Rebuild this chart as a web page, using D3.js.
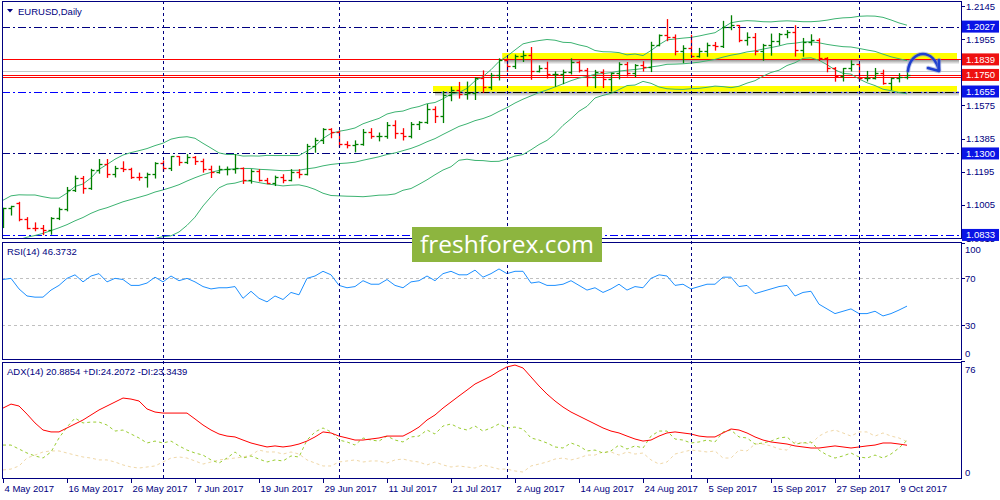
<!DOCTYPE html>
<html><head><meta charset="utf-8">
<script src="https://cdn.jsdelivr.net/npm/d3@7"></script>
<style>body{margin:0;background:#fff}svg{display:block}text{font-family:"Liberation Sans",Arial,sans-serif}</style>
</head><body><svg id="c" width="1000" height="500"></svg>
<script>
const dates = ["2017-05-04","2017-05-05","2017-05-08","2017-05-09","2017-05-10","2017-05-11","2017-05-12","2017-05-15","2017-05-16","2017-05-17","2017-05-18","2017-05-19","2017-05-22","2017-05-23","2017-05-24","2017-05-25","2017-05-26","2017-05-29","2017-05-30","2017-05-31",
"2017-06-01","2017-06-02","2017-06-05","2017-06-06","2017-06-07","2017-06-08","2017-06-09","2017-06-12","2017-06-13","2017-06-14","2017-06-15","2017-06-16","2017-06-19","2017-06-20","2017-06-21","2017-06-22","2017-06-23","2017-06-26","2017-06-27","2017-06-28","2017-06-29","2017-06-30",
"2017-07-03","2017-07-04","2017-07-05","2017-07-06","2017-07-07","2017-07-10","2017-07-11","2017-07-12","2017-07-13","2017-07-14","2017-07-17","2017-07-18","2017-07-19","2017-07-20","2017-07-21","2017-07-24","2017-07-25","2017-07-26","2017-07-27","2017-07-28","2017-07-31",
"2017-08-01","2017-08-02","2017-08-03","2017-08-04","2017-08-07","2017-08-08","2017-08-09","2017-08-10","2017-08-11","2017-08-14","2017-08-15","2017-08-16","2017-08-17","2017-08-18","2017-08-21","2017-08-22","2017-08-23","2017-08-24","2017-08-25","2017-08-28","2017-08-29","2017-08-30","2017-08-31",
"2017-09-01","2017-09-04","2017-09-05","2017-09-06","2017-09-07","2017-09-08","2017-09-11","2017-09-12","2017-09-13","2017-09-14","2017-09-15","2017-09-18","2017-09-19","2017-09-20","2017-09-21","2017-09-22","2017-09-25","2017-09-26","2017-09-27","2017-09-28","2017-09-29",
"2017-10-02","2017-10-03","2017-10-04","2017-10-05","2017-10-06","2017-10-09","2017-10-10"];

const open = [1.0886,1.0985,1.1015,1.0925,1.0874,1.0870,1.0861,1.0932,1.0980,1.1090,1.1160,1.1101,1.1207,1.1242,1.1183,1.1215,1.1212,1.1165,1.1163,1.1180,
1.1245,1.1214,1.1283,1.1250,1.1278,1.1257,1.1210,1.1195,1.1209,1.1210,1.1217,1.1150,1.1198,1.1150,1.1132,1.1166,1.1150,1.1195,1.1183,1.1340,
1.1375,1.1440,1.1425,1.1357,1.1347,1.1355,1.1423,1.1400,1.1402,1.1465,1.1415,1.1400,1.1468,1.1478,1.1557,1.1515,1.1633,1.1665,1.1640,1.1647,
1.1735,1.1678,1.1752,1.1838,1.1803,1.1859,1.1866,1.1774,1.1792,1.1757,1.1758,1.1769,1.1822,1.1780,1.1738,1.1769,1.1725,1.1760,1.1814,1.1760,
1.1806,1.1797,1.1923,1.1976,1.1968,1.1888,1.1905,1.1860,1.1885,1.1920,1.1917,1.2023,1.2036,1.1950,1.1967,1.1887,1.1920,1.1942,1.1985,1.1995,
1.1894,1.1940,1.1951,1.1847,1.1792,1.1743,1.1787,1.1812,1.1733,1.1735,1.1760,1.1706,1.1730,1.1737];
const high = [1.0989,1.1000,1.1023,1.0935,1.0905,1.0890,1.0935,1.0990,1.1108,1.1173,1.1171,1.1212,1.1268,1.1268,1.1229,1.1255,1.1218,1.1190,1.1190,1.1250,
1.1260,1.1285,1.1285,1.1296,1.1285,1.1270,1.1230,1.1230,1.1225,1.1296,1.1220,1.1210,1.1210,1.1160,1.1173,1.1181,1.1210,1.1210,1.1355,1.1390,
1.1445,1.1445,1.1432,1.1370,1.1375,1.1440,1.1445,1.1420,1.1480,1.1490,1.1445,1.1480,1.1485,1.1583,1.1570,1.1658,1.1683,1.1710,1.1712,1.1737,
1.1776,1.1762,1.1845,1.1846,1.1867,1.1889,1.1910,1.1805,1.1826,1.1770,1.1780,1.1845,1.1832,1.1790,1.1779,1.1782,1.1762,1.1823,1.1824,1.1812,
1.1829,1.1940,1.1982,1.2070,1.1982,1.1920,1.1980,1.1905,1.1935,1.1939,1.2060,1.2092,1.2036,1.1994,1.1990,1.1928,1.1987,1.1990,1.2007,1.2035,
1.1962,1.1983,1.1960,1.1852,1.1795,1.1790,1.1834,1.1815,1.1773,1.1790,1.1780,1.1735,1.1760,1.1780];
const low = [1.0878,1.0950,1.0917,1.0871,1.0860,1.0838,1.0840,1.0924,1.0974,1.1085,1.1075,1.1097,1.1190,1.1166,1.1168,1.1199,1.1160,1.1150,1.1110,1.1162,
1.1200,1.1205,1.1235,1.1245,1.1240,1.1196,1.1165,1.1190,1.1180,1.1190,1.1131,1.1133,1.1145,1.1130,1.1119,1.1135,1.1146,1.1163,1.1180,1.1310,
1.1360,1.1393,1.1340,1.1335,1.1312,1.1350,1.1390,1.1375,1.1390,1.1390,1.1380,1.1392,1.1440,1.1475,1.1480,1.1480,1.1605,1.1620,1.1614,1.1612,
1.1652,1.1670,1.1724,1.1773,1.1790,1.1830,1.1728,1.1770,1.1735,1.1688,1.1703,1.1758,1.1770,1.1688,1.1680,1.1681,1.1660,1.1730,1.1747,1.1743,
1.1775,1.1772,1.1920,1.1949,1.1868,1.1823,1.1856,1.1855,1.1860,1.1895,1.1910,1.2012,1.1943,1.1924,1.1868,1.1837,1.1866,1.1925,1.1966,1.1861,
1.1860,1.1924,1.1836,1.1771,1.1717,1.1718,1.1776,1.1721,1.1718,1.1730,1.1700,1.1669,1.1713,1.1730];
const close = [1.0985,1.0998,1.0925,1.0874,1.0870,1.0861,1.0932,1.0980,1.1090,1.1160,1.1101,1.1207,1.1242,1.1183,1.1215,1.1212,1.1165,1.1163,1.1180,1.1245,
1.1214,1.1283,1.1250,1.1278,1.1257,1.1210,1.1195,1.1209,1.1210,1.1217,1.1150,1.1198,1.1150,1.1132,1.1166,1.1150,1.1195,1.1183,1.1340,1.1375,
1.1440,1.1425,1.1357,1.1347,1.1355,1.1423,1.1400,1.1402,1.1465,1.1415,1.1400,1.1468,1.1478,1.1557,1.1515,1.1633,1.1665,1.1640,1.1647,1.1735,
1.1678,1.1752,1.1838,1.1803,1.1859,1.1866,1.1774,1.1792,1.1757,1.1758,1.1769,1.1822,1.1780,1.1738,1.1769,1.1725,1.1760,1.1814,1.1760,1.1806,
1.1797,1.1923,1.1976,1.1968,1.1888,1.1905,1.1860,1.1885,1.1920,1.1917,1.2023,1.2036,1.1950,1.1967,1.1887,1.1920,1.1942,1.1985,1.1995,1.1894,
1.1940,1.1951,1.1847,1.1792,1.1743,1.1787,1.1812,1.1733,1.1735,1.1760,1.1706,1.1730,1.1737,1.1750];

const bbUpper = [1.1032,1.1057,1.1063,1.1062,1.1062,1.1052,1.1044,1.1044,1.1073,1.1111,1.1125,1.1160,1.1209,1.1237,1.1267,1.1291,1.1305,1.1316,1.1328,1.1345,
1.1359,1.1382,1.1392,1.1396,1.1387,1.1358,1.1331,1.1303,1.1294,1.1294,1.1285,1.1286,1.1285,1.1289,1.1288,1.1288,1.1288,1.1288,1.1314,1.1342,
1.1386,1.1415,1.1427,1.1435,1.1446,1.1470,1.1486,1.1501,1.1526,1.1538,1.1543,1.1559,1.1569,1.1585,1.1592,1.1613,1.1640,1.1649,1.1673,1.1716,
1.1741,1.1780,1.1827,1.1857,1.1893,1.1928,1.1939,1.1947,1.1953,1.1949,1.1937,1.1935,1.1922,1.1912,1.1890,1.1883,1.1882,1.1878,1.1865,1.1870,
1.1861,1.1890,1.1923,1.1951,1.1956,1.1961,1.1965,1.1973,1.1983,1.1992,1.2021,1.2049,1.2057,1.2061,1.2059,1.2055,1.2054,1.2058,1.2060,1.2058,
1.2055,1.2055,1.2058,1.2064,1.2072,1.2077,1.2079,1.2086,1.2088,1.2087,1.2080,1.2065,1.2048,1.2035];
const bbMiddle = [1.0769,1.0790,1.0806,1.0820,1.0830,1.0842,1.0858,1.0874,1.0892,1.0914,1.0933,1.0957,1.0976,1.0989,1.1006,1.1023,1.1036,1.1049,1.1062,1.1079,
1.1091,1.1105,1.1121,1.1142,1.1161,1.1178,1.1192,1.1203,1.1209,1.1212,1.1214,1.1214,1.1209,1.1207,1.1204,1.1201,1.1203,1.1204,1.1212,1.1218,
1.1229,1.1237,1.1242,1.1245,1.1250,1.1261,1.1271,1.1281,1.1294,1.1303,1.1316,1.1329,1.1346,1.1367,1.1385,1.1409,1.1432,1.1455,1.1470,1.1488,
1.1500,1.1517,1.1541,1.1563,1.1589,1.1611,1.1630,1.1649,1.1664,1.1681,1.1699,1.1717,1.1732,1.1741,1.1754,1.1758,1.1763,1.1772,1.1777,1.1781,
1.1787,1.1796,1.1802,1.1811,1.1812,1.1814,1.1818,1.1823,1.1831,1.1839,1.1852,1.1863,1.1871,1.1882,1.1888,1.1898,1.1907,1.1916,1.1928,1.1932,
1.1939,1.1940,1.1934,1.1925,1.1918,1.1912,1.1910,1.1902,1.1893,1.1885,1.1869,1.1854,1.1843,1.1832];
const bbLower = [1.0506,1.0522,1.0549,1.0578,1.0597,1.0632,1.0671,1.0703,1.0710,1.0717,1.0742,1.0754,1.0744,1.0741,1.0744,1.0755,1.0767,1.0783,1.0795,1.0813,
1.0823,1.0828,1.0850,1.0888,1.0935,1.0999,1.1052,1.1103,1.1124,1.1130,1.1143,1.1142,1.1133,1.1125,1.1120,1.1114,1.1118,1.1120,1.1110,1.1094,
1.1072,1.1059,1.1057,1.1055,1.1054,1.1052,1.1056,1.1061,1.1062,1.1068,1.1089,1.1099,1.1123,1.1149,1.1178,1.1205,1.1224,1.1261,1.1267,1.1260,
1.1259,1.1254,1.1255,1.1269,1.1285,1.1294,1.1321,1.1351,1.1375,1.1413,1.1461,1.1499,1.1542,1.1570,1.1618,1.1633,1.1644,1.1666,1.1689,1.1692,
1.1713,1.1702,1.1681,1.1671,1.1668,1.1667,1.1671,1.1673,1.1679,1.1686,1.1683,1.1677,1.1685,1.1703,1.1717,1.1743,1.1764,1.1777,1.1804,1.1820,
1.1845,1.1848,1.1834,1.1809,1.1779,1.1759,1.1755,1.1727,1.1705,1.1689,1.1668,1.1660,1.1649,1.1642];

const rsi = [69,70,61,55,54,54,60,64,70,73,67,72,74,67,70,69,64,64,66,71,
67,72,68,70,67,63,61,62,62,63,53,59,53,50,55,52,58,56,70,72,
76,73,64,62,63,68,65,65,69,64,62,67,68,72,68,74,76,73,73,77,
71,74,78,74,76,76,66,67,64,64,65,68,64,60,62,58,61,65,60,63,
62,70,73,72,64,65,61,63,65,65,71,71,63,64,57,59,61,63,64,55,
58,59,48,44,40,42,44,40,40,42,38,40,43,46.3732];

const adx = [46.1,48.8,47.5,42,36,31.2,29.9,29.9,32.6,35.3,38,41.4,44.8,47.5,50.2,52.9,52.2,50.9,45.5,43.4,
42.7,42.7,42.7,42.7,38.7,34.6,31.2,28.5,27.1,26.5,24.4,22.4,21,19.7,20.4,19.7,20.4,21.7,23.7,26.5,
29.9,29.2,27.1,25.8,24.4,24.4,25.1,25.8,27.1,27.1,27.1,29.9,33.2,38,41.4,46.1,50.2,54.3,58.3,62.4,
65.1,67.8,71.2,74,75.3,73.3,67.2,61.1,55.6,50.9,46.8,43.4,40.7,38,35.3,32.6,30.5,29.2,27.1,25.1,
23.7,24.4,27.1,29.2,29.9,29.2,28.5,27.1,26.5,26.5,29.2,31.9,31.2,29.2,26.5,24.4,23.1,22.4,21.7,20.4,
19.7,19,19,19.7,20.4,19.7,19,19.7,20.4,21,22.4,22.4,21.7,20.8854];
const plusDI = [21,21,18.3,15.6,13.6,12.2,16.3,25.8,33.2,39.3,36,36.6,36.6,34.6,30.5,31.2,28.5,25.8,22.4,23.7,
22.4,23.7,20.4,17.6,15.6,14.2,10.9,8.8,12.2,16.3,12.2,13.6,11.5,9.5,10.9,10.2,13.6,12.9,24.4,29.9,
32.6,29.9,24.4,23.1,21,25.8,24.4,23.7,27.1,24.4,23.1,26.5,27.1,31.2,28.5,33.9,35.3,32.6,31.2,33.9,
30.5,32.6,35.3,32.6,33.2,31.9,25.8,24.4,22.4,19.7,19,22.4,20.4,17,17.6,15.6,17,21,18.3,20.4,
19,27.1,30.5,30.5,25.1,24.4,22.4,23.1,24.4,23.1,29.9,31.2,26.5,25.8,21.7,22.4,23.7,25.8,26.5,21.7,
22.4,23.1,17.6,14.2,12.2,13.6,15.6,12.9,12.2,14.2,12.2,14.9,19,24.2072];
const minusDI = [4.1,4.7,6.8,12.2,14.2,16.3,17,17,15.6,14.2,12.9,12.2,10.9,10.9,9.5,7.5,6.1,5.4,6.1,6.8,
9.5,12.2,12.9,12.2,10.2,8.1,9.5,10.9,11.5,12.2,12.9,14.2,17.6,16.3,16.3,14.9,16.3,14.9,10.9,8.8,
6.8,6.8,9.5,10.2,10.9,9.5,10.2,10.2,8.8,10.9,11.5,10.2,9.5,7.5,9.5,7.5,6.1,6.8,6.1,5.4,
7.5,6.1,4.7,4.7,3.4,2.7,6.8,8.1,9.5,11.5,12.2,10.9,12.2,14.2,14.2,16.3,16.3,14.2,16.3,14.9,
15.6,10.9,8.1,9.5,14.9,16.3,17.6,17,16.3,17,12.2,12.2,17.6,17,21.7,21.7,20.4,18.3,17.6,23.1,
22.4,21.7,27.1,29.9,31.2,29.2,27.1,29.9,29.9,27.1,29.2,27.1,25.8,23.3439];

const priceTicks = [1.2145,1.1955,1.1765,1.1575,1.1385,1.1195,1.1005,1.0815];
const rsiTicks = [100,70,30,0];
const rsiLevels = [70,30];
const adxTicks = [76,0];
const markedLevels = [1.2027,1.1839,1.1750,1.1655,1.1300,1.0833];
const markedKinds  = ["blue","red","red","blue","blue","blue"];
const plainLevels = [1.1774,1.1736];
const zoneLow  = [1.1839,1.1655];
const zoneHigh = [1.18757,1.16866];
const zoneFromBar = [62.4,53.75];
const zoneToBar = [119.25,119.25];

// ---------------- rendering ----------------
const svg = d3.select("#c");
const L = 2, R = 961;
const panels = {main:[1,238], rsi:[242,359], adx:[362,478]};
const NAVY = "#000080";
const defs = svg.append("defs");
for (const [k,[t,b]] of Object.entries(panels)) {
  defs.append("clipPath").attr("id","clip-"+k).append("rect").attr("x",L).attr("y",t).attr("width",R-L).attr("height",b-t);
}
const grad = defs.append("linearGradient").attr("id","shadow").attr("x1",0).attr("y1",0).attr("x2",0).attr("y2",1);
grad.append("stop").attr("offset",0).attr("stop-color","#000").attr("stop-opacity",0.45);
grad.append("stop").attr("offset",1).attr("stop-color","#000").attr("stop-opacity",0);

const x = d3.scaleLinear().domain([0, 113]).range([3, 907]);
const yP = d3.scaleLinear().domain([1.08155, 1.21737]).range([238, 1]);
const yR = d3.scaleLinear().domain([0, 100]).range([360.6, 243.1]);
const yA = d3.scaleLinear().domain([0, 76]).range([476, 364]);
const parse = d3.timeParse("%Y-%m-%d");
const dt = dates.map(parse);

svg.append("rect").attr("width",1000).attr("height",500).attr("fill","#fff");

const gm = svg.append("g").attr("clip-path","url(#clip-main)");
// zones
zoneLow.forEach((lo,k)=>{
  const x0 = x(zoneFromBar[k]), x1 = x(zoneToBar[k]);
  const yt = yP(zoneHigh[k]), yb = yP(lo);
  gm.append("rect").attr("x",x0+2).attr("y",yb).attr("width",x1-x0).attr("height",5).attr("fill","url(#shadow)");
  gm.append("rect").attr("x",x0).attr("y",yt).attr("width",x1-x0).attr("height",yb-yt).attr("fill","#ffff00");
});
// plain level lines
plainLevels.forEach((v,k)=>{
  gm.append("line").attr("x1",L).attr("x2",R).attr("y1",Math.round(yP(v))+0.5).attr("y2",Math.round(yP(v))+0.5)
    .attr("stroke", k===0 ? "#c8c8c8" : "#ff0000").attr("stroke-width",1);
});
// marked level lines
markedLevels.forEach((v,k)=>{
  const yy = Math.round(yP(v))+0.5;
  const kind = markedKinds[k];
  const ln = gm.append("line").attr("x1",L).attr("x2",R).attr("y1",yy).attr("y2",yy).attr("stroke-width",1);
  if (kind==="red") ln.attr("stroke","#ff0000");
  else ln.attr("stroke", v===1.0833||v===1.1655 ? "#0000ff" : NAVY).attr("stroke-dasharray","8,3,2,3");
});
// black dashes of lower zone
gm.append("line").attr("x1",x(zoneFromBar[1])).attr("x2",x(zoneToBar[1]))
  .attr("y1",Math.round(yP(zoneLow[1]))+0.5).attr("y2",Math.round(yP(zoneLow[1]))+0.5)
  .attr("stroke","#000").attr("stroke-width",1.2).attr("stroke-dasharray","8,3,2,3");

// bollinger bands
const bbLine = arr => d3.line().x((d,i)=>x(i)).y(d=>yP(d))(arr);
[bbUpper,bbMiddle,bbLower].forEach(arr=>{
  gm.append("path").attr("d",bbLine(arr)).attr("fill","none").attr("stroke","#3cb371").attr("stroke-width",1);
});
// OHLC bars
const bars = gm.append("g");
dates.forEach((d,i)=>{
  const cx = Math.round(x(i))+0.5;
  const col = close[i] >= open[i] ? "#008000" : "#ff0000";
  bars.append("line").attr("x1",cx).attr("x2",cx).attr("y1",yP(high[i])).attr("y2",yP(low[i])+1).attr("stroke",col).attr("stroke-width",1.3);
  const yo = Math.round(yP(open[i]))+0.5, yc = Math.round(yP(close[i]))+0.5;
  bars.append("line").attr("x1",cx-3).attr("x2",cx).attr("y1",yo).attr("y2",yo).attr("stroke",col).attr("stroke-width",1.3);
  bars.append("line").attr("x1",cx).attr("x2",cx+3).attr("y1",yc).attr("y2",yc).attr("stroke",col).attr("stroke-width",1.3);
});

// RSI panel
const gr = svg.append("g").attr("clip-path","url(#clip-rsi)");
rsiLevels.forEach(v=>{
  gr.append("line").attr("x1",L).attr("x2",R).attr("y1",Math.round(yR(v))+0.5).attr("y2",Math.round(yR(v))+0.5)
    .attr("stroke","#c0c0c0").attr("stroke-dasharray","3,3");
});
gr.append("path").attr("d",d3.line().x((d,i)=>x(i)).y(d=>yR(d))(rsi)).attr("fill","none").attr("stroke","#1e90ff").attr("stroke-width",1);

// ADX panel
const ga = svg.append("g").attr("clip-path","url(#clip-adx)");
const aLine = d3.line().x((d,i)=>x(i)).y(d=>yA(d));
ga.append("path").attr("d",aLine(minusDI)).attr("fill","none").attr("stroke","#f0d8a8").attr("stroke-width",1).attr("stroke-dasharray","3,3");
ga.append("path").attr("d",aLine(plusDI)).attr("fill","none").attr("stroke","#9acd32").attr("stroke-width",1).attr("stroke-dasharray","3,3");
ga.append("path").attr("d",aLine(adx)).attr("fill","none").attr("stroke","#ff0000").attr("stroke-width",1);

// month separators
dt.forEach((d,i)=>{
  if (i>0 && d.getMonth() !== dt[i-1].getMonth()) {
    const cx = Math.round(x(i))+0.5;
    svg.append("line").attr("x1",cx).attr("x2",cx).attr("y1",1).attr("y2",478)
      .attr("stroke",NAVY).attr("stroke-width",1).attr("stroke-dasharray","3,3");
  }
});

// panel frames
for (const [k,[t,b]] of Object.entries(panels)) {
  svg.append("rect").attr("x",L+0.5).attr("y",t+0.5).attr("width",R-L).attr("height",b-t)
    .attr("fill","none").attr("stroke",NAVY).attr("stroke-width",1);
}

// right axis: price
const axisText = (xx,yy,t,col)=>svg.append("text").attr("x",xx).attr("y",yy).attr("font-size",9.5).attr("fill",col||NAVY).text(t);
priceTicks.forEach(v=>{
  const yy = Math.round(yP(v))+0.5;
  svg.append("line").attr("x1",R).attr("x2",R+4).attr("y1",yy).attr("y2",yy).attr("stroke",NAVY);
  axisText(966, yP(v)+3.5, d3.format(".4f")(v));
});
markedLevels.forEach((v,k)=>{
  const yy = yP(v);
  svg.append("rect").attr("x",962).attr("y",yy-6).attr("width",37).attr("height",12)
    .attr("fill", markedKinds[k]==="red" ? "#ee1111" : "#0a14e6");
  axisText(966, yy+3.5, d3.format(".4f")(v), "#fff");
});
// rsi axis
const rsiLabelY = {100:253,70:282,30:329,0:357};
rsiTicks.forEach(v=>{
  const yy = Math.round(yR(v))+0.5;
  svg.append("line").attr("x1",R).attr("x2",R+4).attr("y1",yy).attr("y2",yy).attr("stroke",NAVY);
  axisText(965, rsiLabelY[v], String(v));
});
const adxLabelY = {76:373,0:476};
adxTicks.forEach(v=>{ axisText(965, adxLabelY[v], String(v)); });

// x axis
const fmt = d3.timeFormat("%-d %b %Y");
dt.forEach((d,i)=>{
  if (i % 8 === 0) {
    const cx = Math.round(x(i))+0.5;
    svg.append("line").attr("x1",cx).attr("x2",cx).attr("y1",478).attr("y2",483).attr("stroke",NAVY);
    axisText(cx+1, 491.5, fmt(d));
  }
});

// titles
svg.append("path").attr("d","M7,9 L13,9 L10,12.5 Z").attr("fill",NAVY);
axisText(18, 14.5, "EURUSD,Daily");
axisText(7, 255, "RSI(14) 46.3732");
axisText(7, 375, "ADX(14) 20.8854 +DI:24.2072 -DI:23.3439");

// arrow
const ag = svg.append("g").attr("fill","none").attr("stroke-linecap","round").attr("stroke-linejoin","round");
const arrowD = "M908,71 C909,60 916,54 923,54 C930,54 936,60 939,70";
const headD = "M928,68 L939,71 L939,60";
[[arrowD,"#8090d0",4.5,0.5],[arrowD,"#1f3fd0",2.6,1],[headD,"#8090d0",4.5,0.5],[headD,"#1f3fd0",2.6,1]].forEach(([d,c,w,o])=>{
  ag.append("path").attr("d",d).attr("stroke",c).attr("stroke-width",w).attr("opacity",o);
});

// logo
svg.append("rect").attr("x",412).attr("y",227).attr("width",190).attr("height",35).attr("fill","#8db53f");
svg.append("text").attr("x",507).attr("y",253).attr("text-anchor","middle").attr("fill","#fff")
  .style("font-family","'Open Sans',sans-serif").attr("font-size",24.5).text("freshforex.com");
</script></body></html>
